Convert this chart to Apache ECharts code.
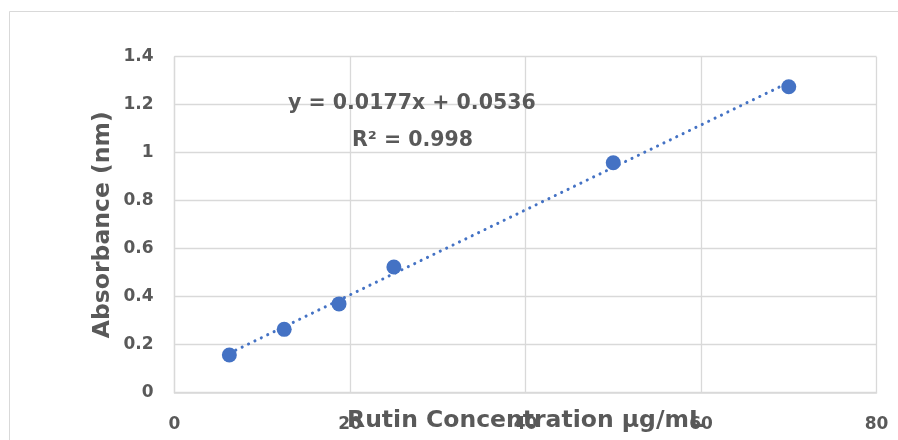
<!DOCTYPE html>
<html>
<head>
<meta charset="utf-8">
<script src="https://cdn.jsdelivr.net/npm/echarts@6/dist/echarts.min.js"></script>
<style>
html,body{margin:0;padding:0;background:#fff;}
#chart{width:898px;height:440px;}
</style>
</head>
<body>
<div id="chart"></div>
<script>
// Data
const concentrations = [6.25, 12.5, 18.75, 25, 50, 70];
const absorbances = [0.157, 0.264, 0.370, 0.524, 0.958, 1.275];
const slope = 0.0177;
const intercept = 0.0536;
const equationText = 'y = 0.0177x + 0.0536';
const r2Text = 'R² = 0.998';
const xTitle = 'Rutin Concentration µg/mL';
const yTitle = 'Absorbance (nm)';

const points = concentrations.map((x, i) => [x, absorbances[i]]);
const xFirst = concentrations[0], xLast = concentrations[concentrations.length - 1];
const trend = [[xFirst, slope * xFirst + intercept], [xLast, slope * xLast + intercept]];

const FONT = '"DejaVu Sans", sans-serif';
const GRAY = '#595959';
const BLUE = '#4472C4';

const chart = echarts.init(document.getElementById('chart'));
chart.setOption({
  animation: false,
  backgroundColor: '#fff',
  grid: { left: 174.5, right: 21.5, top: 56.7, bottom: 47.3, containLabel: false, outerBoundsMode: 'none' },
  xAxis: {
    type: 'value', min: 0, max: 80, interval: 20,
    name: xTitle, nameLocation: 'middle', nameGap: 16, nameMoveOverlap: false,
    nameTextStyle: { fontFamily: FONT, fontWeight: 'bold', fontSize: 23.5, color: GRAY },
    axisLine: { show: true, lineStyle: { color: '#d9d9d9', width: 1.5 } },
    axisTick: { show: false },
    axisLabel: { margin: 23, fontFamily: FONT, fontWeight: 'bold', fontSize: 17, color: GRAY },
    splitLine: { show: true, lineStyle: { color: '#d9d9d9', width: 1.3 } }
  },
  yAxis: {
    type: 'value', min: 0, max: 1.4, interval: 0.2,
    name: yTitle, nameLocation: 'middle', nameGap: 60, nameMoveOverlap: false,
    nameTextStyle: { fontFamily: FONT, fontWeight: 'bold', fontSize: 23.5, color: GRAY },
    axisLine: { show: true, lineStyle: { color: '#d9d9d9', width: 1.3 } },
    axisTick: { show: false },
    axisLabel: { margin: 21, fontFamily: FONT, fontWeight: 'bold', fontSize: 17, color: GRAY },
    splitLine: { show: true, lineStyle: { color: '#d9d9d9', width: 1.3 } }
  },
  graphic: [
    { type: 'rect', shape: { x: 9.5, y: 11.5, width: 1000, height: 1000 },
      style: { fill: 'none', stroke: '#d9d9d9', lineWidth: 1 }, silent: true, z: -1 },
    { type: 'text', left: 288, top: 93,
      style: { text: equationText, font: 'bold 20.5px ' + FONT, fill: GRAY }, z: 10 },
    { type: 'text', left: 352, top: 130,
      style: { text: r2Text, font: 'bold 20.5px ' + FONT, fill: GRAY }, z: 10 }
  ],
  series: [
    {
      type: 'line', data: trend, symbol: 'none', silent: true,
      lineStyle: { color: BLUE, width: 3, type: [0.1, 7], cap: 'round' }, z: 2
    },
    {
      type: 'scatter', data: points, symbol: 'circle', symbolSize: 15,
      itemStyle: { color: BLUE, opacity: 1 }, z: 3
    }
  ]
});
</script>
</body>
</html>
